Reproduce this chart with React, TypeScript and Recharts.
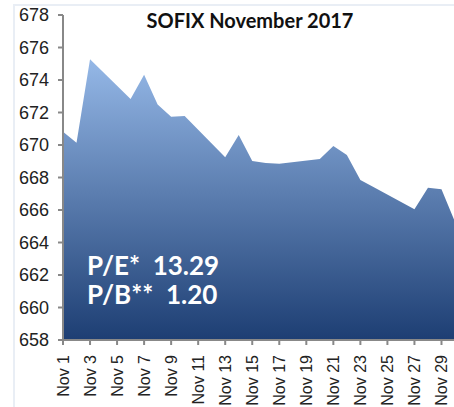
import { AreaChart, Area, XAxis, YAxis } from 'recharts';

// trading days in November 2017 and SOFIX close
const days = [1, 2, 3, 6, 7, 8, 9, 10, 13, 14, 15, 16, 17, 20, 21, 22, 23, 24, 27, 28, 29, 30];
const closes = [670.82, 670.14, 675.27, 672.83, 674.33, 672.5, 671.74, 671.78, 669.24, 670.62, 669.02, 668.89, 668.85, 669.14, 669.94, 669.38, 667.85, 667.4, 666.04, 667.37, 667.27, 665.26];
const dayTicks = [1, 3, 5, 7, 9, 11, 13, 15, 17, 19, 21, 23, 25, 27, 29];
const valueTicks = [658, 660, 662, 664, 666, 668, 670, 672, 674, 676, 678];

const data = days.map((d, i) => ({ day: d, value: closes[i] }));

const FONT = '"Liberation Sans", Arial, sans-serif';

const YTick = (props: any) => {
    const { x, y, payload } = props;
    return (
        <text x={x - 7} y={y} dy="0.35em" textAnchor="end" fill="#222" fontSize={18} fontFamily={FONT}>
            {payload.value}
        </text>
    );
};

const XTick = (props: any) => {
    const { x, y, payload } = props;
    return (
        <text
            x={0}
            y={0}
            dy="0.35em"
            textAnchor="end"
            fill="#222"
            fontSize={16}
            fontFamily={FONT}
            transform={`translate(${x},${y + 8}) rotate(-90)`}
        >
            {`Nov ${payload.value}`}
        </text>
    );
};

export default function App() {
    return (
        <div style={{ position: 'fixed', left: 0, top: 0, width: 454, height: 407, overflow: 'hidden', background: '#fff' }}>
            <div style={{ position: 'absolute', left: 13, top: 4, width: 460, height: 420, borderTop: '2px solid #e9eef5', borderLeft: '2px solid #e9eef5' }} />
            <AreaChart width={470} height={407} data={data} margin={{ top: 15, right: 15, left: 0, bottom: 0 }}>
                <defs>
                    <linearGradient id="sofixFill" x1="0" y1="0" x2="0" y2="1">
                        <stop offset="0%" stopColor="#95b8e7" />
                        <stop offset="100%" stopColor="#1d3e73" />
                    </linearGradient>
                </defs>
                <XAxis
                    dataKey="day"
                    type="number"
                    domain={[1, 30]}
                    ticks={dayTicks}
                    interval={0}
                    height={67}
                    tick={<XTick />}
                    tickLine={{ stroke: '#888', strokeWidth: 2 }}
                    axisLine={{ stroke: '#888', strokeWidth: 2 }}
                    tickSize={5}
                />
                <YAxis
                    domain={[658, 678]}
                    ticks={valueTicks}
                    interval={0}
                    width={63}
                    tick={<YTick />}
                    tickLine={{ stroke: '#888', strokeWidth: 2 }}
                    axisLine={{ stroke: '#888', strokeWidth: 2 }}
                    tickSize={5}
                    allowDataOverflow
                />
                <Area
                    type="linear"
                    dataKey="value"
                    baseValue={658}
                    stroke="none"
                    fill="url(#sofixFill)"
                    fillOpacity={1}
                    isAnimationActive={false}
                    dot={false}
                    activeDot={false}
                />
            </AreaChart>
            <div style={{ position: 'absolute', left: 0, top: 8, width: 500, textAlign: 'center', fontFamily: 'Lato, sans-serif', fontWeight: 700, fontSize: 20, lineHeight: '24px', color: '#111' }}>
                SOFIX November 2017
            </div>
            <div style={{ position: 'absolute', left: 87, top: 251, fontFamily: 'Lato, sans-serif', fontWeight: 700, fontSize: 26, lineHeight: '29px', color: '#fff', whiteSpace: 'pre' }}>
                {'P/E*  13.29\nP/B**  1.20'}
            </div>
        </div>
    );
}
